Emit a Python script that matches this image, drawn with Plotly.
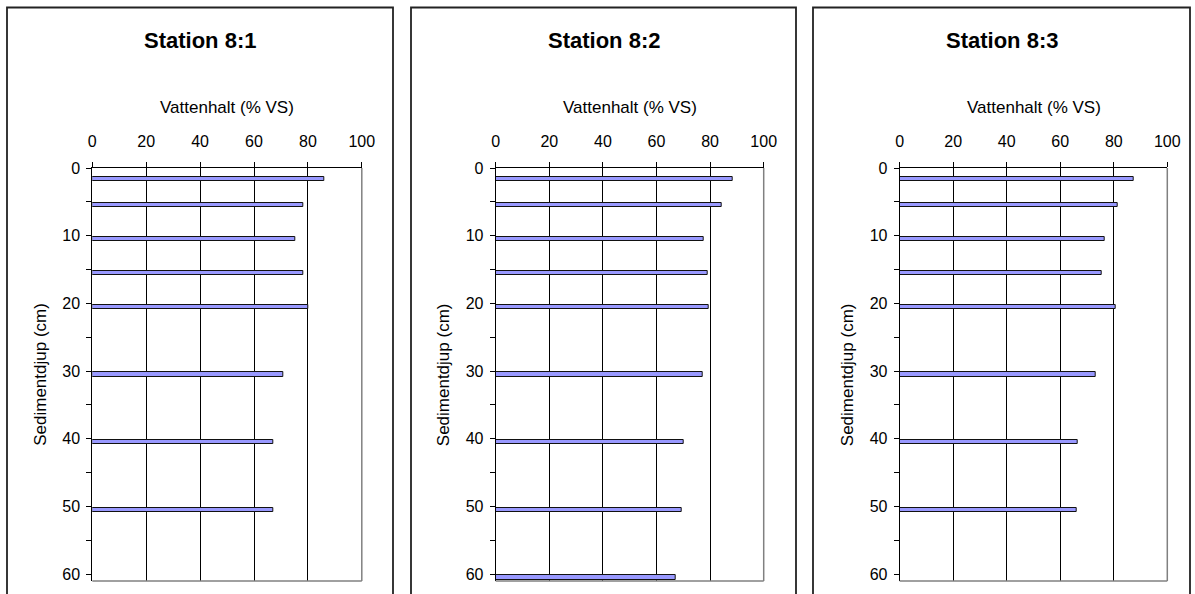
import plotly.graph_objects as go

# Water content (% of wet weight) per sediment depth, three stations
stations = ["Station 8:1", "Station 8:2", "Station 8:3"]
depth_1 = [1.6, 5.5, 10.5, 15.5, 20.5, 30.5, 40.5, 50.5]
water_1 = [86.0, 78.3, 75.5, 78.3, 80.2, 70.8, 67.2, 67.3]
depth_2 = [1.6, 5.5, 10.5, 15.5, 20.5, 30.5, 40.5, 50.5, 60.5]
water_2 = [88.4, 84.3, 77.7, 79.0, 79.5, 77.1, 70.1, 69.5, 67.3]
depth_3 = [1.6, 5.5, 10.5, 15.5, 20.5, 30.5, 40.5, 50.5]
water_3 = [87.3, 81.3, 76.7, 75.5, 80.7, 73.1, 66.6, 66.1]

x_ticks = [0, 20, 40, 60, 80, 100]
y_ticks = [0, 10, 20, 30, 40, 50, 60]
x_title = "Vattenhalt (% VS)"
y_title = "Sedimentdjup (cm)"

W, H = 1195, 594
FONT = "Arial, Liberation Sans, sans-serif"
BAR_FILL = "#9999FF"

# plot-area and frame geometry (pixels)
plot_x = [(92.3, 361.8), (495.7, 763.7), (899.7, 1167.3)]
frames_x = [(7, 393), (411, 796), (813, 1190)]
plot_top, plot_bottom = 168, 581

depths = [depth_1, depth_2, depth_3]
waters = [water_1, water_2, water_3]

fig = go.Figure()
ydom = [1 - plot_bottom / H, 1 - plot_top / H]

shapes = []
annotations = []
for i in range(3):
    sfx = "" if i == 0 else str(i + 1)
    fig.add_trace(go.Bar(
        x=waters[i], y=depths[i], orientation="h", width=0.65,
        marker=dict(color=BAR_FILL, line=dict(color="#111111", width=1)),
        xaxis="x" + sfx, yaxis="y" + sfx, showlegend=False,
    ))
    x0, x1 = plot_x[i]
    fig.layout["xaxis" + sfx] = dict(
        domain=[x0 / W, x1 / W], anchor="y" + sfx, side="top",
        range=[0, 100], tickvals=x_ticks, ticks="outside", ticklen=5,
        tickcolor="#000", showline=True, linecolor="#000", linewidth=1,
        showgrid=True, gridcolor="#000", gridwidth=1, zeroline=False,
        tickfont=dict(family=FONT, size=16, color="#000"),
        ticklabelstandoff=9, fixedrange=True, automargin=False,
    )
    fig.layout["yaxis" + sfx] = dict(
        domain=ydom, anchor="x" + sfx, range=[61, 0],
        tickvals=y_ticks, ticks="outside", ticklen=5, tickcolor="#000",
        minor=dict(tickvals=[5, 15, 25, 35, 45, 55], ticks="outside",
                   ticklen=5, tickcolor="#000"),
        showline=True, linecolor="#000", linewidth=1,
        showgrid=False, zeroline=False,
        tickfont=dict(family=FONT, size=16, color="#000"),
        ticklabelstandoff=3, fixedrange=True, automargin=False,
    )
    # gray right and bottom edges of the plot area
    shapes.append(dict(type="line", xref="paper", yref="paper",
                       x0=x1 / W, x1=x1 / W, y0=ydom[0], y1=ydom[1],
                       line=dict(color="#808080", width=1.5)))
    shapes.append(dict(type="line", xref="paper", yref="paper",
                       x0=x0 / W, x1=x1 / W, y0=ydom[0], y1=ydom[0],
                       line=dict(color="#808080", width=1.5)))
    # chart frame
    fx0, fx1 = frames_x[i]
    shapes.append(dict(type="rect", xref="paper", yref="paper",
                       x0=fx0 / W, x1=fx1 / W, y0=-0.05, y1=1 - 7.5 / H,
                       line=dict(color="#222", width=1.8), layer="below"))
    # chart title
    annotations.append(dict(
        text="<b>%s</b>" % stations[i], xref="paper", yref="paper",
        x=(fx0 + fx1) / 2 / W, y=1 - 41 / H, showarrow=False,
        xanchor="center", yanchor="middle",
        font=dict(family=FONT, size=22, color="#000")))
    # axis titles
    annotations.append(dict(
        text=x_title, xref="paper", yref="paper",
        x=(x0 + x1) / 2 / W, y=1 - 107 / H, showarrow=False,
        xanchor="center", yanchor="middle",
        font=dict(family=FONT, size=17, color="#000")))
    annotations.append(dict(
        text=y_title, xref="paper", yref="paper",
        x=(x0 - 52) / W, y=1 - (plot_top + plot_bottom) / 2 / H,
        showarrow=False, textangle=-90, xanchor="center", yanchor="middle",
        font=dict(family=FONT, size=17, color="#000")))

fig.update_layout(
    width=W, height=H,
    margin=dict(l=0, r=0, t=0, b=0, pad=0, autoexpand=False),
    paper_bgcolor="white", plot_bgcolor="white",
    shapes=shapes, annotations=annotations, bargap=0,
)

fig.write_html(
    "out.html",
    config={"displayModeBar": False},
    post_script="document.body.style.margin='0';"
                "document.body.style.overflow='hidden';",
)
